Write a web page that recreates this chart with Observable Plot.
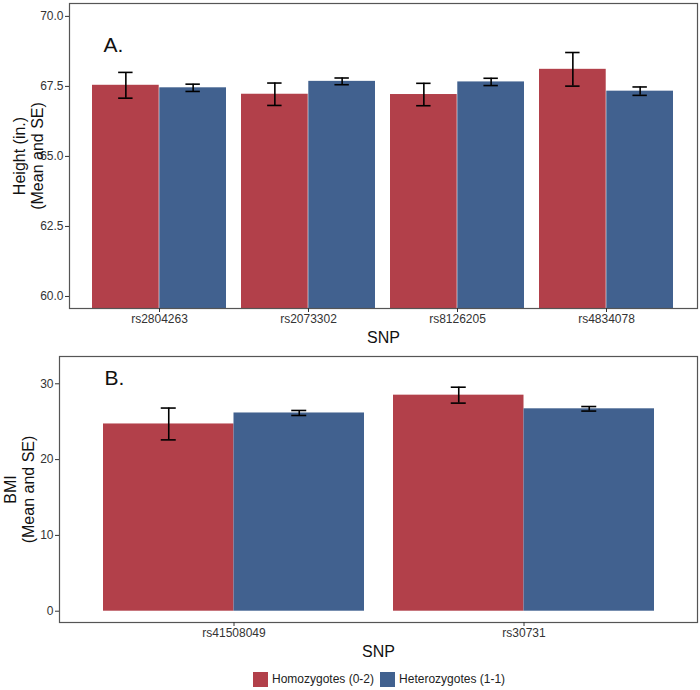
<!DOCTYPE html>
<html>
<head>
<meta charset="utf-8">
<script src="https://cdn.jsdelivr.net/npm/d3@7"></script>
<script src="https://cdn.jsdelivr.net/npm/@observablehq/plot@0.6"></script>
<style>
  html, body { margin: 0; padding: 0; background: white; }
  body { width: 700px; font-family: 'Liberation Sans', Arial, Helvetica, sans-serif; }
  svg { display: block; }
  #legend { display: flex; align-items: center; height: 22px; padding-left: 253px; font-size: 12px; color: #222; }
  .sw { width: 15px; height: 15px; display: inline-block; margin-right: 4px; }
</style>
</head>
<body>
<div id="chart"></div>
<script>
// ---- Data ----
const genotypes = ["Homozygotes (0-2)", "Heterozygotes (1-1)"];

// Panel A: Height
const snpsA = ["rs2804263", "rs2073302", "rs8126205", "rs4834078"];
const homoMeanA = [67.54, 67.22, 67.21, 68.11];
const homoSEA   = [0.46, 0.40, 0.40, 0.60];
const hetMeanA  = [67.45, 67.68, 67.66, 67.33];
const hetSEA    = [0.13, 0.12, 0.13, 0.15];
const yTicksA   = [60, 62.5, 65, 67.5, 70];

// Panel B: BMI
const snpsB = ["rs41508049", "rs30731"];
const homoMeanB = [24.7, 28.5];
const homoSEB   = [2.1, 1.05];
const hetMeanB  = [26.15, 26.7];
const hetSEB    = [0.33, 0.30];
const yTicksB   = [0, 10, 20, 30];

const RED = "#B2404A";
const BLUE = "#41618F";
const FONT = "'Liberation Sans', Arial, Helvetica, sans-serif";
const W = 700;

function panel(o) {
  const rows = o.snps.map((s, i) => ({
    snp: s, homo: o.homoMean[i], homoSE: o.homoSE[i], het: o.hetMean[i], hetSE: o.hetSE[i]
  }));
  const n = o.snps.length;
  const innerW = W - o.marginLeft - 3;
  const step = innerW / (n - 0.1 + 2 * 0.15);
  const bw = step * 0.9;
  const half = bw / 2, q = bw / 4, capIn = (bw - 15) / 2;
  const err = {stroke: "#000", strokeWidth: 1.6};
  return Plot.plot({
    width: W, height: o.height,
    marginLeft: o.marginLeft, marginRight: 3, marginTop: o.marginTop, marginBottom: o.marginBottom,
    style: {fontFamily: FONT, background: "white", color: "#333"},
    x: {type: "band", domain: o.snps, paddingInner: 0.1, paddingOuter: 0.15},
    y: {domain: o.yDomain},
    marks: [
      Plot.barY(rows, {x: "snp", y: "homo", fill: RED, insetRight: half, clip: true}),
      Plot.barY(rows, {x: "snp", y: "het", fill: BLUE, insetLeft: half, clip: true}),
      Plot.ruleX(rows, {x: "snp", y1: d => d.homo - d.homoSE, y2: d => d.homo + d.homoSE, dx: -q, ...err}),
      Plot.ruleX(rows, {x: "snp", y1: d => d.het - d.hetSE, y2: d => d.het + d.hetSE, dx: q, ...err}),
      Plot.tickY(rows, {x: "snp", y: d => d.homo + d.homoSE, dx: -q, insetLeft: capIn, insetRight: capIn, ...err}),
      Plot.tickY(rows, {x: "snp", y: d => d.homo - d.homoSE, dx: -q, insetLeft: capIn, insetRight: capIn, ...err}),
      Plot.tickY(rows, {x: "snp", y: d => d.het + d.hetSE, dx: q, insetLeft: capIn, insetRight: capIn, ...err}),
      Plot.tickY(rows, {x: "snp", y: d => d.het - d.hetSE, dx: q, insetLeft: capIn, insetRight: capIn, ...err}),
      Plot.frame({stroke: "#555", strokeWidth: 1.2}),
      Plot.axisY({ticks: o.yTicks, tickFormat: o.tickFmt, tickSize: 4, tickPadding: 2, fontSize: 12, label: null, stroke: "#333"}),
      Plot.axisX({tickSize: 4, tickPadding: 2, fontSize: 12, label: null, stroke: "#333"}),
      Plot.text([o.letter], {text: d => d, frameAnchor: "top-left", dx: o.letterDx, dy: o.letterDy,
        fontSize: 21, textAnchor: "start", lineAnchor: "middle", fill: "#111"}),
      Plot.text(["SNP"], {text: d => d, frameAnchor: "bottom", dy: 29, fontSize: 16, lineAnchor: "middle", fill: "#111"}),
      Plot.text([o.yTitle], {text: d => d, frameAnchor: "left", dx: o.titleX - o.marginLeft, rotate: -90,
        fontSize: 16, lineHeight: 1.12, textAnchor: "middle", lineAnchor: "middle", fill: "#111"})
    ]
  });
}

const chart = document.getElementById("chart");
chart.appendChild(panel({
  snps: snpsA, homoMean: homoMeanA, homoSE: homoSEA, hetMean: hetMeanA, hetSE: hetSEA,
  yDomain: [59.57, 70.46], yTicks: yTicksA, tickFmt: d3.format(".1f"),
  yTitle: "Height (in.)\n(Mean and SE)", letter: "A.", letterDx: 34, letterDy: 42, titleX: 28,
  height: 346, marginLeft: 69, marginTop: 3, marginBottom: 38
}));
chart.appendChild(panel({
  snps: snpsB, homoMean: homoMeanB, homoSE: homoSEB, hetMean: hetMeanB, hetSE: hetSEB,
  yDomain: [-1.49, 33.6], yTicks: yTicksB, tickFmt: d3.format("d"),
  yTitle: "BMI\n(Mean and SE)", letter: "B.", letterDx: 45, letterDy: 22, titleX: 19,
  height: 322, marginLeft: 59, marginTop: 10, marginBottom: 46
}));

const legend = document.createElement("div");
legend.id = "legend";
[RED, BLUE].forEach((c, i) => {
  const sw = document.createElement("span");
  sw.className = "sw"; sw.style.background = c;
  if (i > 0) sw.style.marginLeft = "6px";
  const t = document.createElement("span");
  t.textContent = genotypes[i];
  legend.appendChild(sw); legend.appendChild(t);
});
chart.appendChild(legend);
</script>
</body>
</html>
